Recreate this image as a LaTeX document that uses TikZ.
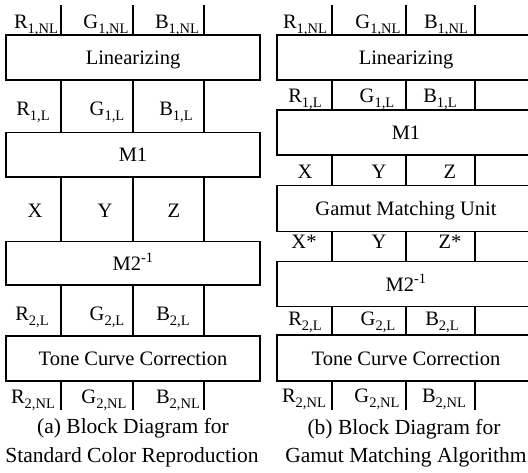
\documentclass[tikz,border=0pt]{standalone}
\usepackage{fontspec}
\setmainfont{Liberation Serif}
\newcommand\mysub[1]{\raisebox{-5pt}{\fontsize{14.5}{14}\selectfont #1}}
\begin{document}
\begin{tikzpicture}[x=1pt,y=-1pt,
  fnt/.style={font=\fontsize{20.5}{24}\selectfont},
  blk/.style={draw, line width=1.5pt, rectangle, inner sep=0pt, fnt, text height=14pt, text depth=0pt},
  lab/.style={fnt, anchor=base, inner sep=0pt},
  capt/.style={font=\fontsize{21.5}{24}\selectfont, anchor=base, inner sep=0pt},
  wire/.style={line width=1.5pt}]
\clip (0,0) rectangle (528,472);
% ---------- left diagram (a) ----------
\node[blk, minimum width=254pt, minimum height=45pt] (linA) at (133,57.5) {Linearizing};
\node[blk, minimum width=254pt, minimum height=44.5pt] (m1A) at (133,154.75) {M1};
\node[blk, minimum width=254pt, minimum height=43.5pt] (m2A) at (133,263.25) {M2\textsuperscript{-1}};
\node[blk, minimum width=254pt, minimum height=45pt] (toneA) at (133,358.5) {Tone Curve Correction};
\foreach \c/\x in {1/61,2/133,3/204}{
  \coordinate (tA\c) at (\x,5);
  \coordinate (bA\c) at (\x,410);
  \draw[wire] (tA\c) -- (tA\c |- linA.north)
              (linA.south -| tA\c) -- (m1A.north -| tA\c)
              (m1A.south -| tA\c) -- (m2A.north -| tA\c)
              (m2A.south -| tA\c) -- (toneA.north -| tA\c)
              (toneA.south -| tA\c) -- (bA\c);
}
\node[lab] (ra1) at (36,28) {R\mysub{1,NL}};
\node[lab] (ga1) at (106,28) {G\mysub{1,NL}};
\node[lab] (ba1) at (177,28) {B\mysub{1,NL}};
\node[lab] (ra2) at (33,115) {R\mysub{1,L}};
\node[lab] (ga2) at (107,115) {G\mysub{1,L}};
\node[lab] (ba2) at (176,115) {B\mysub{1,L}};
\node[lab] (xa) at (35,217) {X};
\node[lab] (ya) at (105,217) {Y};
\node[lab] (za) at (174,217) {Z};
\node[lab] (ra3) at (32,320) {R\mysub{2,L}};
\node[lab] (ga3) at (107,320) {G\mysub{2,L}};
\node[lab] (ba3) at (173,320) {B\mysub{2,L}};
\node[lab] (ra4) at (33,403) {R\mysub{2,NL}};
\node[lab] (ga4) at (104,403) {G\mysub{2,NL}};
\node[lab] (ba4) at (178,403) {B\mysub{2,NL}};
\node[capt] (capa1) at (133,433) {(a) Block Diagram for};
\node[capt] (capa2) at (132,462) {Standard Color Reproduction};
% ---------- right diagram (b) ----------
\node[blk, minimum width=258pt, minimum height=45pt] (linB) at (406,57.5) {Linearizing};
\node[blk, minimum width=258pt, minimum height=45pt] (m1B) at (406,132.5) {M1};
\node[blk, minimum width=258pt, minimum height=46pt] (gmuB) at (406,208.5) {Gamut Matching Unit};
\node[blk, minimum width=258pt, minimum height=45pt] (m2B) at (406,284) {M2\textsuperscript{-1}};
\node[blk, minimum width=258pt, minimum height=46pt] (toneB) at (406,358) {Tone Curve Correction};
\foreach \c/\x in {1/332,2/406,3/475}{
  \coordinate (tB\c) at (\x,5);
  \coordinate (bB\c) at (\x,410);
  \draw[wire] (tB\c) -- (tB\c |- linB.north)
              (linB.south -| tB\c) -- (m1B.north -| tB\c)
              (m1B.south -| tB\c) -- (gmuB.north -| tB\c)
              (gmuB.south -| tB\c) -- (m2B.north -| tB\c)
              (m2B.south -| tB\c) -- (toneB.north -| tB\c)
              (toneB.south -| tB\c) -- (bB\c);
}
\node[lab] (rb1) at (305,28) {R\mysub{1,NL}};
\node[lab] (gb1) at (378,28) {G\mysub{1,NL}};
\node[lab] (bb1) at (446,28) {B\mysub{1,NL}};
\node[lab] (rb2) at (305,102) {R\mysub{1,L}};
\node[lab] (gb2) at (377,102) {G\mysub{1,L}};
\node[lab] (bb2) at (440,102) {B\mysub{1,L}};
\node[lab] (xb) at (305,178) {X};
\node[lab] (yb) at (379,178) {Y};
\node[lab] (zb) at (450,178) {Z};
\node[lab] (xsb) at (304,248) {X*};
\node[lab] (ysb) at (379,248) {Y};
\node[lab] (zsb) at (450,248) {Z*};
\node[lab] (rb3) at (305,325) {R\mysub{2,L}};
\node[lab] (gb3) at (378,325) {G\mysub{2,L}};
\node[lab] (bb3) at (442,325) {B\mysub{2,L}};
\node[lab] (rb4) at (304,402) {R\mysub{2,NL}};
\node[lab] (gb4) at (377,402) {G\mysub{2,NL}};
\node[lab] (bb4) at (444,402) {B\mysub{2,NL}};
\node[capt] (capb1) at (404,434) {(b) Block Diagram for};
\node[capt] (capb2) at (406,462) {Gamut Matching Algorithm};
\end{tikzpicture}
\end{document}
